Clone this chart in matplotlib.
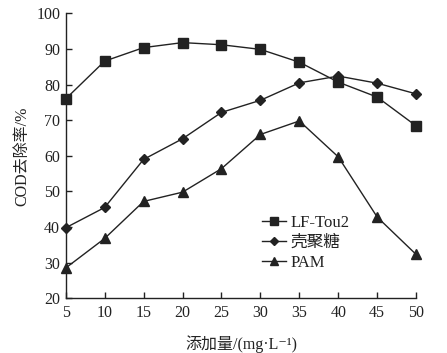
import matplotlib
matplotlib.use("Agg")
import matplotlib.pyplot as plt

plt.rcParams['font.family'] = ['Liberation Serif', 'Noto Sans CJK SC', 'DejaVu Sans']

dosage = [5, 10, 15, 20, 25, 30, 35, 40, 45, 50]
lf_tou2 = [76.0, 86.6, 90.4, 91.8, 91.2, 89.9, 86.3, 80.7, 76.5, 68.4]
chitosan = [39.8, 45.5, 59.0, 64.8, 72.2, 75.6, 80.5, 82.4, 80.4, 77.4]
pam = [28.5, 36.8, 47.2, 49.8, 56.4, 66.0, 69.8, 59.7, 42.8, 32.3]
series_names = ["LF-Tou2", "壳聚糖", "PAM"]
xticks = [5, 10, 15, 20, 25, 30, 35, 40, 45, 50]
yticks = [20, 30, 40, 50, 60, 70, 80, 90, 100]

fig = plt.figure(figsize=(4.47, 3.53), dpi=100)
ax = fig.add_axes([0.147, 0.155, 0.784, 0.807])

c = '#222222'
ax.plot(dosage, lf_tou2, color=c, lw=1.0, marker='s', ms=7, label=series_names[0], clip_on=False)
ax.plot(dosage, chitosan, color=c, lw=1.0, marker='D', ms=5.5, label=series_names[1], clip_on=False)
ax.plot(dosage, pam, color=c, lw=1.0, marker='^', ms=7, label=series_names[2], clip_on=False)

ax.set_xlim(5, 50)
ax.set_ylim(20, 100)
ax.set_xticks(xticks)
ax.set_yticks(yticks)
for s in ['top', 'right']:
    ax.spines[s].set_visible(False)
for s in ['left', 'bottom']:
    ax.spines[s].set_color(c)
    ax.spines[s].set_linewidth(1.0)
ax.tick_params(direction='in', length=4, width=1.0, colors=c, labelsize=11.5, pad=4)
ax.tick_params(axis='x', pad=5)

ax.set_xlabel('添加量/(mg·L⁻¹)', fontsize=11.5, color=c, labelpad=10)
ax.set_ylabel('COD去除率/%', fontsize=11.5, color=c, labelpad=4)

leg = ax.legend(loc='upper left', bbox_to_anchor=(0.568, 0.415), bbox_transform=fig.transFigure,
                frameon=False, fontsize=12, handlelength=1.4, handletextpad=0.3,
                labelspacing=0.25, borderpad=0, markerscale=0.75)
for t in leg.get_texts():
    t.set_color(c)

fig.savefig('out.png', dpi=100)
